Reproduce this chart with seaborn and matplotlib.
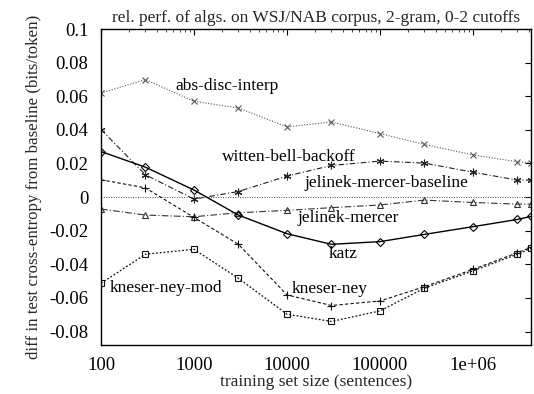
import matplotlib
matplotlib.use("Agg")
import matplotlib.pyplot as plt
import matplotlib.ticker as mticker
import numpy as np
import pandas as pd
import seaborn as sns

sns.set_theme(style="white")
plt.rcParams["font.family"] = ["Liberation Serif", "DejaVu Serif"]

# training set sizes (sentences)
sizes = [100, 300, 1000, 3000, 10000, 30000, 100000, 300000, 1000000, 3000000, 4200000]

abs_disc_interp = [0.0619, 0.0699, 0.0570, 0.0530, 0.0418, 0.0447, 0.0378, 0.0313, 0.0251, 0.0210, 0.0204]
witten_bell_backoff = [0.0402, 0.0133, -0.0012, 0.0033, 0.0125, 0.0188, 0.0214, 0.0202, 0.0148, 0.0101, 0.0101]
jelinek_mercer_baseline = [0.0] * 11
jelinek_mercer = [-0.0071, -0.0107, -0.0117, -0.0093, -0.0079, -0.0063, -0.0047, -0.0018, -0.0032, -0.0042, -0.0042]
katz = [0.0271, 0.0178, 0.0042, -0.0107, -0.0218, -0.0281, -0.0265, -0.0222, -0.0176, -0.0133, -0.0115]
kneser_ney = [0.0103, 0.0055, -0.0121, -0.0281, -0.0582, -0.0645, -0.0618, -0.0533, -0.0430, -0.0331, -0.0299]
kneser_ney_mod = [-0.0513, -0.0340, -0.0311, -0.0483, -0.0697, -0.0740, -0.0677, -0.0542, -0.0439, -0.0340, -0.0305]

xtick_values = [100, 1000, 10000, 100000, 1000000]
xtick_labels = ["100", "1000", "10000", "100000", "1e+06"]
ytick_values = [-0.08, -0.06, -0.04, -0.02, 0, 0.02, 0.04, 0.06, 0.08, 0.1]
ytick_labels = ["-0.08", "-0.06", "-0.04", "-0.02", "0", "0.02", "0.04", "0.06", "0.08", "0.1"]

fig = plt.figure(figsize=(5.34, 3.94), dpi=100)
ax = fig.add_axes([101 / 534, 1 - 345 / 394, 430 / 534, 316 / 394])

# (values, line style, marker style)
series = [
    (abs_disc_interp, dict(color="#555555", linestyle=(0, (1, 1.5)), lw=0.8),
     dict(marker="x", markersize=4.5, markerfacecolor="none")),
    (witten_bell_backoff, dict(color="#222222", linestyle=(0, (5, 2, 1, 2)), lw=0.8),
     dict(marker=(6, 2, 0), markersize=5.5, markerfacecolor="none")),
    (jelinek_mercer_baseline, dict(color="#444444", linestyle=(0, (1, 1.5)), lw=0.7),
     dict(marker="")),
    (jelinek_mercer, dict(color="#333333", linestyle=(0, (6, 2, 1, 2)), lw=0.8),
     dict(marker="^", markersize=4.5, markerfacecolor="none")),
    (katz, dict(color="black", linestyle="-", lw=1.0),
     dict(marker="D", markersize=3.8, markerfacecolor="none")),
    (kneser_ney, dict(color="#111111", linestyle=(0, (3, 2)), lw=0.8),
     dict(marker="+", markersize=6, markerfacecolor="none")),
    (kneser_ney_mod, dict(color="#111111", linestyle=(0, (1.5, 1.5)), lw=0.9),
     dict(marker="s", markersize=4.5, markerfacecolor="none")),
]

for values, line_style, marker_style in series:
    df = pd.DataFrame({"size": sizes, "value": values})
    sns.lineplot(data=df, x="size", y="value", ax=ax, estimator=None, sort=False, **line_style)
    line = ax.lines[-1]
    line.set_marker(marker_style["marker"])
    if marker_style["marker"]:
        line.set_markersize(marker_style["markersize"])
        line.set_markerfacecolor(marker_style["markerfacecolor"])
        line.set_markeredgecolor(line_style["color"])
        line.set_markeredgewidth(0.8)

ax.set_xscale("log")
ax.set_xlim(100, 4200000)
ax.set_ylim(-0.088, 0.1)

ax.xaxis.set_major_locator(mticker.FixedLocator(xtick_values))
ax.xaxis.set_major_formatter(mticker.FixedFormatter(xtick_labels))
ax.xaxis.set_minor_locator(mticker.LogLocator(base=10, subs=(2, 3, 4, 5, 6, 7, 8, 9)))
ax.xaxis.set_minor_formatter(mticker.NullFormatter())
ax.yaxis.set_major_locator(mticker.FixedLocator(ytick_values))
ax.yaxis.set_major_formatter(mticker.FixedFormatter(ytick_labels))

ax.tick_params(axis="both", which="major", direction="in", length=4, width=0.8,
               top=True, right=True, labelsize=13.5, colors="black")
ax.tick_params(axis="x", which="major", pad=9)
ax.tick_params(axis="y", which="major", pad=9)
ax.tick_params(axis="both", which="minor", direction="in", length=2.5, width=0.6,
               top=True, right=True)
for spine in ax.spines.values():
    spine.set_color("black")
    spine.set_linewidth(1.0)

ax.set_xlabel("training set size (sentences)", fontsize=12.5, labelpad=0)
ax.set_ylabel("diff in test cross-entropy from baseline (bits/token)", fontsize=12.2, labelpad=5)
ax.set_title("rel. perf. of algs. on WSJ/NAB corpus, 2-gram, 0-2 cutoffs", fontsize=12.5, pad=5)

# series names written beside their curves
labels = [
    ("abs-disc-interp", 625, 0.0659),
    ("witten-bell-backoff", 2000, 0.0238),
    ("jelinek-mercer-baseline", 15240, 0.0083),
    ("jelinek-mercer", 13100, -0.0125),
    ("katz", 28300, -0.0336),
    ("kneser-ney", 11300, -0.0546),
    ("kneser-ney-mod", 125, -0.0540),
]
for text, x, y in labels:
    ax.text(x, y, text, fontsize=12.5, ha="left", va="center", color="black")

fig.savefig("out.png", dpi=100)
